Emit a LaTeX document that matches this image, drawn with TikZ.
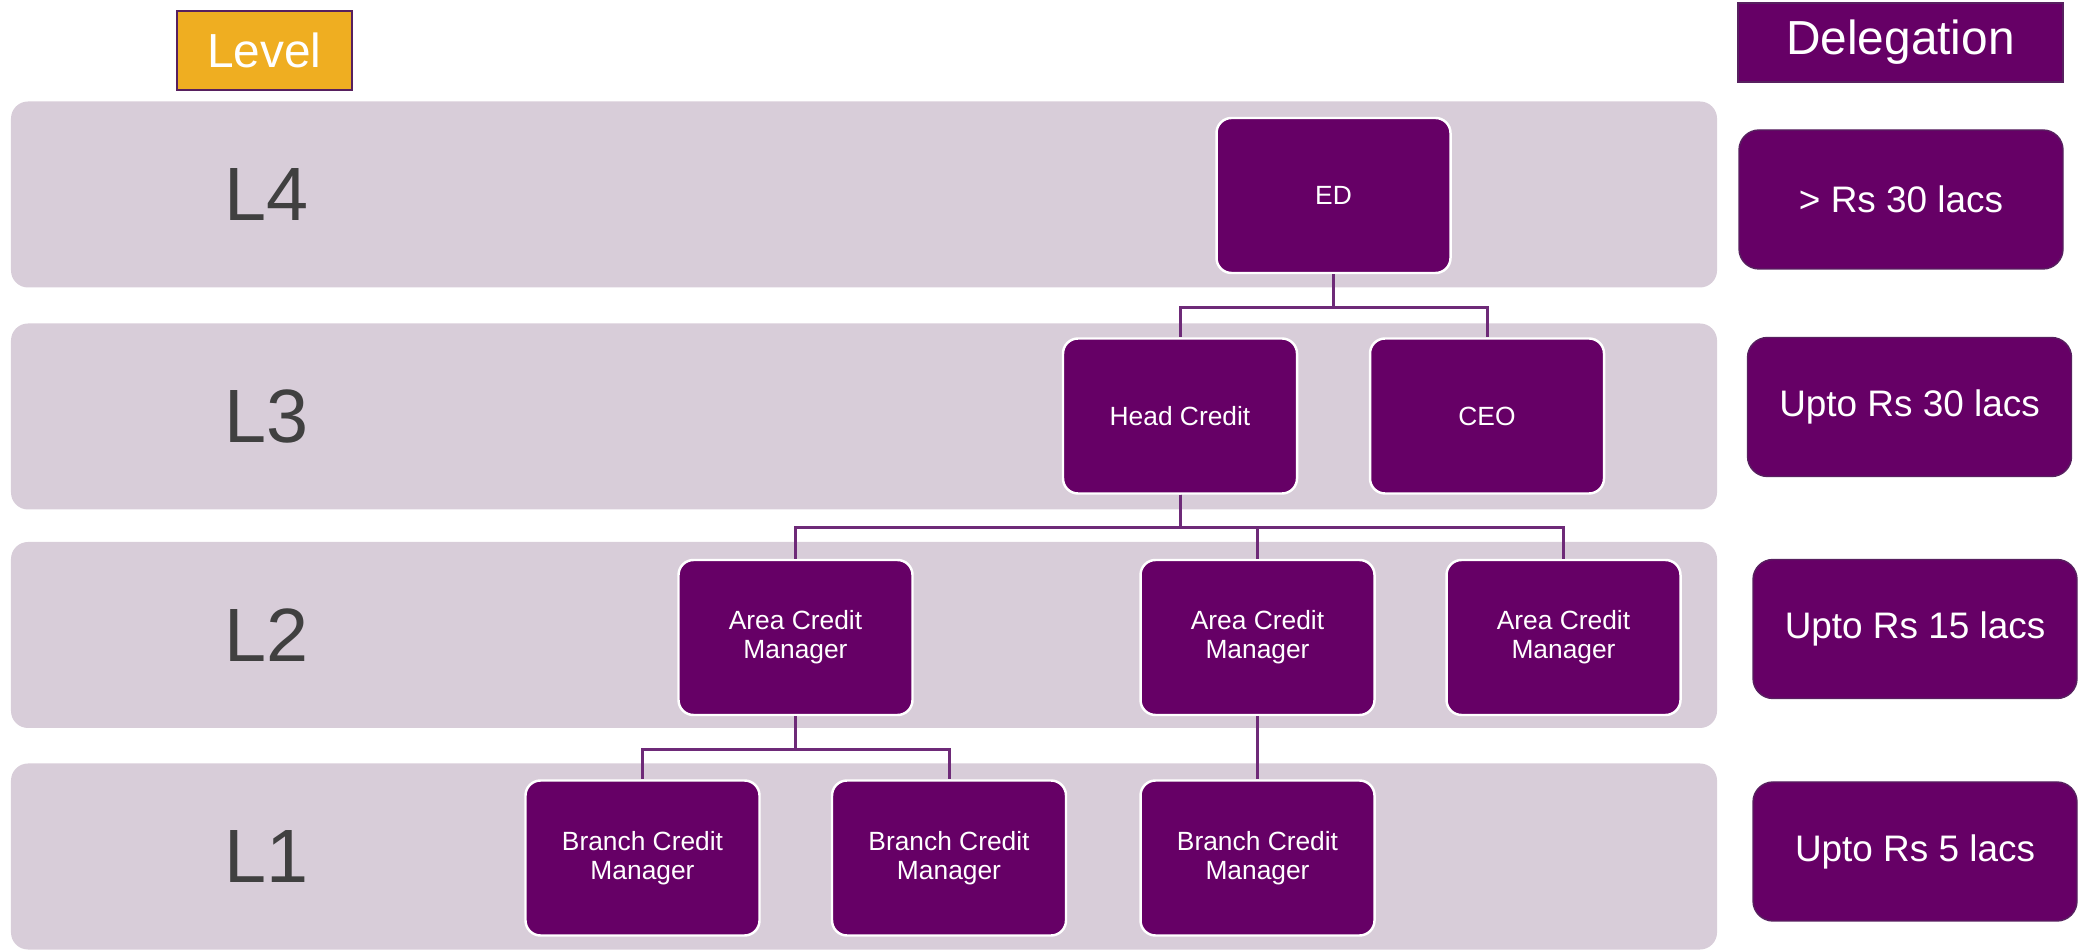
\documentclass[tikz,border=0pt]{standalone}
\usepackage{fontspec}
\setmainfont{Liberation Sans}
\definecolor{plum}{HTML}{660066}
\definecolor{plumline}{HTML}{6E2A78}
\definecolor{plumedge}{HTML}{57205F}
\definecolor{lilac}{HTML}{D8CDD9}
\definecolor{amber}{HTML}{EFAE21}
\definecolor{slate}{HTML}{404040}
\begin{document}
\begin{tikzpicture}[
    band/.style={fill=lilac, rounded corners=0.17cm, minimum width=17.06cm,
      minimum height=1.86cm, inner sep=0pt},
    lvl/.style={text=slate, font=\fontsize{21.5}{24}\selectfont},
    post/.style={fill=plum, draw=white, line width=0.7pt, rounded corners=0.15cm,
      minimum width=2.34cm, minimum height=1.55cm, inner sep=0pt, text=white,
      align=center, font=\fontsize{7.5}{8.2}\selectfont},
    limit/.style={fill=plum, draw=plumedge, line width=0.4pt, rounded corners=0.2cm,
      minimum width=3.24cm, minimum height=1.39cm, inner sep=0pt, text=white,
      font=\fontsize{10.5}{12}\selectfont},
    head/.style={minimum height=0.79cm, inner sep=0pt, text=white,
      font=\fontsize{13.6}{16}\selectfont},
    elbow/.style={to path={(\tikztostart.south) -- ++(0,-0.33) -| (\tikztotarget.north)}}
  ]
  \useasboundingbox (0,0) rectangle (20.82,9.5);
  % level bands
  \draw
    (8.64,7.555) node[band] (band4){}
    (8.64,5.335) node[band] (band3){}
    (8.64,3.15) node[band] (band2){}
    (8.64,0.935) node[band] (band1){};
  \draw
    (2.67,7.555) node[lvl] (l4){L4}
    (2.67,5.335) node[lvl] (l3){L3}
    (2.67,3.15) node[lvl] (l2){L2}
    (2.67,0.935) node[lvl] (l1){L1};
  % column headers
  \draw
    (2.645,8.995) node[head, fill=amber, draw=plumedge, line width=0.6pt,
      minimum width=1.75cm] (level){Level}
    (19.005,9.075) node[head, fill=plum, draw=plumedge, line width=0.4pt,
      minimum width=3.25cm] (deleg){Delegation};
  % delegation limits
  \draw
    (19.01,7.505) node[limit] (lim4){> Rs 30 lacs}
    (19.095,5.43) node[limit] (lim3){Upto Rs 30 lacs}
    (19.15,3.21) node[limit] (lim2){Upto Rs 15 lacs}
    (19.15,0.985) node[limit] (lim1){Upto Rs 5 lacs};
  % hierarchy
  \draw
    (13.335,7.545) node[post] (ed){ED}
    (11.80,5.34) node[post] (hc){Head Credit}
    (14.87,5.34) node[post] (ceo){CEO}
    (7.955,3.125) node[post] (acm1){Area Credit\\Manager}
    (12.575,3.125) node[post] (acm2){Area Credit\\Manager}
    (15.635,3.125) node[post] (acm3){Area Credit\\Manager}
    (6.425,0.92) node[post] (bcm1){Branch Credit\\Manager}
    (9.49,0.92) node[post] (bcm2){Branch Credit\\Manager}
    (12.575,0.92) node[post] (bcm3){Branch Credit\\Manager};
  \begin{scope}[draw=plumline, line width=0.85pt, elbow]
    \draw (ed) to (hc);
    \draw (ed) to (ceo);
    \draw (hc) to (acm1);
    \draw (hc) to (acm2);
    \draw (hc) to (acm3);
    \draw (acm1) to (bcm1);
    \draw (acm1) to (bcm2);
    \draw (acm2) to (bcm3);
  \end{scope}
\end{tikzpicture}
\end{document}
